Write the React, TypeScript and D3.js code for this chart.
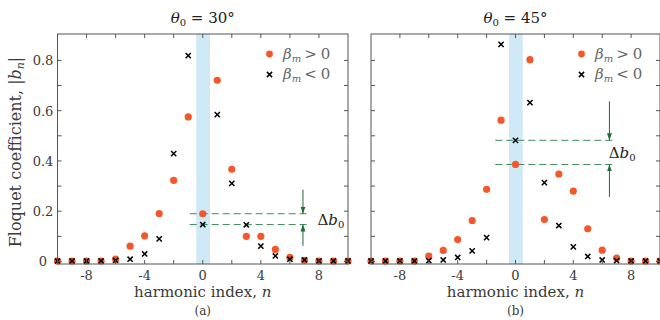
import React from "react";
import * as d3 from "d3";

const harmonicIndex = [-10, -9, -8, -7, -6, -5, -4, -3, -2, -1, 0, 1, 2, 3, 4, 5, 6, 7, 8, 9, 10];

const panelA_pos = [0.002, 0.002, 0.002, 0.002, 0.009, 0.061, 0.102, 0.191, 0.323, 0.575, 0.19, 0.721, 0.367, 0.1, 0.1, 0.048, 0.016, 0.005, 0.002, 0.002, 0.002];
const panelA_neg = [0.002, 0.002, 0.002, 0.002, 0.004, 0.009, 0.03, 0.09, 0.429, 0.819, 0.147, 0.584, 0.311, 0.146, 0.061, 0.022, 0.009, 0.006, 0.002, 0.002, 0.002];
const panelB_pos = [0.002, 0.002, 0.002, 0.002, 0.021, 0.044, 0.087, 0.163, 0.287, 0.562, 0.386, 0.803, 0.167, 0.348, 0.28, 0.13, 0.045, 0.013, 0.002, 0.002, 0.002];
const panelB_neg = [0.002, 0.002, 0.002, 0.002, 0.003, 0.006, 0.016, 0.042, 0.095, 0.864, 0.482, 0.632, 0.314, 0.143, 0.058, 0.02, 0.006, 0.003, 0.002, 0.002, 0.002];

const xTicks = [-8, -6, -4, -2, 0, 2, 4, 6, 8];
const xTickLabels = [-8, -4, 0, 4, 8];
const yTicks = [0, 0.1, 0.2, 0.3, 0.4, 0.5, 0.6, 0.7, 0.8];
const yTickLabels = [0, 0.2, 0.4, 0.6, 0.8];

const titles = ["30°", "45°"];
const captions = ["(a)", "(b)"];

// annotation values (data units): dashed line extents, arrow x, arrow tails, label position
const annoA = { x0: -0.9, x1: 7.3, ax: 6.9, topFrom: 0.286, botFrom: 0.062, lx: 7.9, ly: 0.145 };
const annoB = { x0: -1.4, x1: 6.9, ax: 6.5, topFrom: 0.637, botFrom: 0.257, lx: 6.45, ly: 0.411 };

const FONT = "'DejaVu Serif', 'Liberation Serif', serif";
const ORANGE = "#f4582a";
const AXIS = "#555";
const TEXT = "#3a3a3a";
const GREEN_D = "#3f8c5e";
const GREEN_A = "#1f6b3c";

const TOP = 34;
const BOTTOM = 264;

type PanelProps = {
  x0: number;
  x1: number;
  pos: number[];
  neg: number[];
  title: string;
  caption: string;
  anno: typeof annoA;
  showYLabels: boolean;
  id: string;
};

function Panel({ x0, x1, pos, neg, title, caption, anno, showYLabels, id }: PanelProps) {
  const x = d3.scaleLinear().domain([-10, 10]).range([x0, x1]);
  const y = d3.scaleLinear().domain([-0.01, 0.905]).range([BOTTOM, TOP]);
  const cx = (x0 + x1) / 2;
  const b0pos = pos[harmonicIndex.indexOf(0)];
  const b0neg = neg[harmonicIndex.indexOf(0)];
  const hi = Math.max(b0pos, b0neg);
  const lo = Math.min(b0pos, b0neg);
  const tl = 4;
  const cross = (px: number, py: number, k: string) => {
    const s = 2.6;
    return (
      <path
        key={k}
        d={`M${px - s},${py - s}L${px + s},${py + s}M${px - s},${py + s}L${px + s},${py - s}`}
        stroke="#000"
        strokeWidth={1.5}
      />
    );
  };
  return (
    <g>
      <defs>
        <marker id={"arr" + id} viewBox="0 0 10 10" refX="10" refY="5" markerWidth="7" markerHeight="7" orient="auto">
          <path d="M0,1.5L10,5L0,8.5Z" fill={GREEN_A} />
        </marker>
      </defs>
      {/* band */}
      <rect x={x(-0.45)} y={TOP} width={x(0.5) - x(-0.45)} height={BOTTOM - TOP} fill="#cfe9f7" />
      {/* dashed lines */}
      {[hi, lo].map((v, i) => (
        <line key={i} x1={x(anno.x0)} x2={x(anno.x1)} y1={y(v)} y2={y(v)} stroke={GREEN_D} strokeWidth={1} strokeDasharray="7,4" />
      ))}
      {/* arrows */}
      <line x1={x(anno.ax)} x2={x(anno.ax)} y1={y(anno.topFrom)} y2={y(hi)} stroke={GREEN_A} strokeWidth={1} markerEnd={`url(#arr${id})`} />
      <line x1={x(anno.ax)} x2={x(anno.ax)} y1={y(anno.botFrom)} y2={y(lo)} stroke={GREEN_A} strokeWidth={1} markerEnd={`url(#arr${id})`} />
      <text x={x(anno.lx)} y={y(anno.ly)} fontFamily={FONT} fontSize={15} fill="#222">
        Δ<tspan fontStyle="italic">b</tspan>
        <tspan fontSize={10} dy={3}>0</tspan>
      </text>
      {/* points */}
      {harmonicIndex.map((n, i) => (
        <circle key={"p" + n} cx={x(n)} cy={y(pos[i])} r={3.6} fill={ORANGE} />
      ))}
      {harmonicIndex.map((n, i) => cross(x(n), y(neg[i]), "n" + n))}
      {/* frame */}
      <rect x={x0} y={TOP} width={x1 - x0} height={BOTTOM - TOP} fill="none" stroke={AXIS} strokeWidth={1} />
      {xTicks.map((t) => (
        <g key={"xt" + t} stroke={AXIS} strokeWidth={1}>
          <line x1={x(t)} x2={x(t)} y1={BOTTOM} y2={BOTTOM - tl} />
          <line x1={x(t)} x2={x(t)} y1={TOP} y2={TOP + tl} />
        </g>
      ))}
      {yTicks.map((t) => (
        <g key={"yt" + t} stroke={AXIS} strokeWidth={1}>
          <line x1={x0} x2={x0 + tl} y1={y(t)} y2={y(t)} />
          <line x1={x1} x2={x1 - tl} y1={y(t)} y2={y(t)} />
        </g>
      ))}
      {xTickLabels.map((t) => (
        <text key={"xl" + t} x={x(t)} y={280} textAnchor="middle" fontFamily={FONT} fontSize={13} fill={TEXT}>
          {t < 0 ? "-" + Math.abs(t) : String(t)}
        </text>
      ))}
      {showYLabels &&
        yTickLabels.map((t) => (
          <text key={"yl" + t} x={43} y={y(t) + 5} textAnchor="middle" fontFamily={FONT} fontSize={13} fill={TEXT}>
            {t === 0 ? "0" : t.toFixed(1)}
          </text>
        ))}
      {/* legend */}
      <circle cx={x1 - 78.5} cy={54} r={3.4} fill={ORANGE} />
      <text x={x1 - 65} y={59} fontFamily={FONT} fontSize={15} fill="#666">
        <tspan fontStyle="italic">β</tspan>
        <tspan fontStyle="italic" fontSize={10} dy={3}>m</tspan>
        <tspan dy={-3} dx={3}>{">"}</tspan>
        <tspan dx={4}>0</tspan>
      </text>
      {cross(x1 - 78.5, 74.5, "leg")}
      <text x={x1 - 65} y={79} fontFamily={FONT} fontSize={15} fill="#666">
        <tspan fontStyle="italic">β</tspan>
        <tspan fontStyle="italic" fontSize={10} dy={3}>m</tspan>
        <tspan dy={-3} dx={3}>{"<"}</tspan>
        <tspan dx={4}>0</tspan>
      </text>
      {/* title */}
      <text x={cx} y={23} textAnchor="middle" fontFamily={FONT} fontSize={15} fill="#222">
        <tspan fontStyle="italic">θ</tspan>
        <tspan fontSize={10} dy={3}>0</tspan>
        <tspan dy={-3}> = {title}</tspan>
      </text>
      {/* x label */}
      <text x={cx} y={297} textAnchor="middle" fontFamily={FONT} fontSize={15} fill={TEXT}>
        harmonic index, <tspan fontStyle="italic">n</tspan>
      </text>
      <text x={cx} y={315} textAnchor="middle" fontFamily={FONT} fontSize={12} fill={TEXT}>
        {caption}
      </text>
    </g>
  );
}

export default function App() {
  return (
    <svg
      width={660}
      height={320}
      style={{ position: "fixed", left: 0, top: 0, background: "#fff" }}
    >
      <rect width={660} height={320} fill="#fff" />
      <text
        transform="translate(21,152) rotate(-90)"
        textAnchor="middle"
        fontFamily={FONT}
        fontSize={16}
        fill={TEXT}
      >
        Floquet coefficient, |<tspan fontStyle="italic">b</tspan>
        <tspan fontStyle="italic" fontSize={11} dy={3}>n</tspan>
        <tspan dy={-3}>|</tspan>
      </text>
      <Panel x0={57.5} x1={348} pos={panelA_pos} neg={panelA_neg} title={titles[0]} caption={captions[0]} anno={annoA} showYLabels={true} id="a" />
      <Panel x0={371} x1={660} pos={panelB_pos} neg={panelB_neg} title={titles[1]} caption={captions[1]} anno={annoB} showYLabels={false} id="b" />
    </svg>
  );
}
